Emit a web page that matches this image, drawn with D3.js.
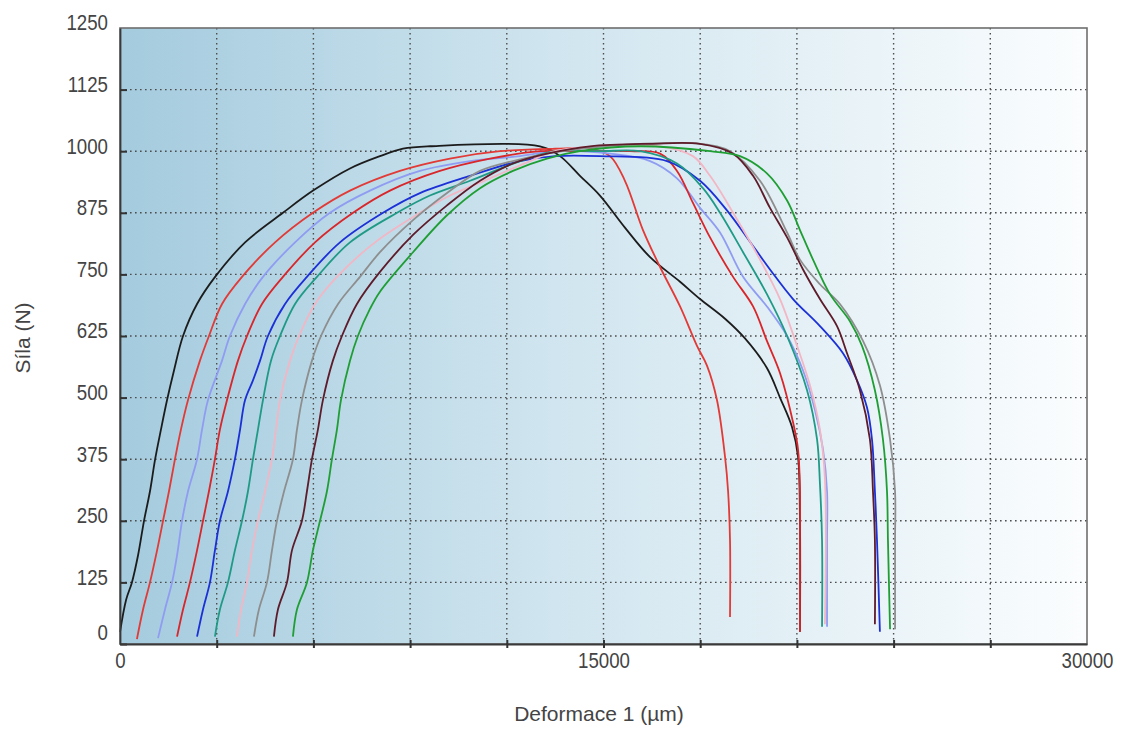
<!DOCTYPE html>
<html>
<head>
<meta charset="utf-8">
<script src="https://cdn.jsdelivr.net/npm/d3@7"></script>
<style>
  html, body { margin: 0; padding: 0; background: #fff; }
  svg { display: block; }
  text { font-family: "Liberation Sans", Arial, sans-serif; fill: #444; }
</style>
</head>
<body>
<svg id="chart" width="1125" height="729"></svg>
<script>
// force (N) vs deformation (µm), one array per specimen
var black = [[0,24],[190,90],[370,125],[560,180],[745,250],[930,310],[1090,375],[1270,435],[1460,495],[1675,555],[1955,625],[2390,690],[2950,745],[3880,815],[5055,875],[5990,920],[7135,965],[8065,990],[8780,1005],[9615,1010],[13030,1010],[13650,990],[14270,950],[14890,910],[15665,845],[16445,785],[17375,735],[17995,700],[18770,660],[19390,620],[20070,560],[20475,500],[20850,440],[21035,380],[21095,250],[21095,25]];
var redA = [[525,10],[715,70],[930,125],[1150,190],[1335,250],[1520,310],[1705,375],[1890,435],[2110,495],[2480,575],[2760,625],[3165,690],[3785,745],[4810,815],[5985,875],[7135,920],[8685,960],[10235,985],[11790,1000],[13495,1005],[14580,1005],[15200,990],[15665,940],[16225,840],[16755,765],[17375,685],[17900,605],[18210,565],[18520,495],[18770,380],[18865,310],[18925,210],[18925,55]];
var periwinkle = [[1180,12],[1395,70],[1615,125],[1770,180],[1925,250],[2110,310],[2390,375],[2545,435],[2730,495],[3165,575],[3410,625],[3880,690],[4435,745],[5430,815],[6515,875],[7755,920],[9305,960],[10860,980],[12410,990],[13495,1000],[15200,995],[16445,980],[17280,945],[17995,885],[18615,835],[19330,745],[20070,685],[20695,625],[21190,555],[21560,475],[21810,395],[21935,310],[21935,210],[21935,35]];
var redB = [[1770,15],[1955,70],[2170,125],[2390,190],[2575,250],[2760,310],[2945,375],[3100,435],[3320,495],[3660,575],[3940,625],[4405,690],[5055,745],[6050,815],[7230,875],[8375,920],[9925,960],[11480,985],[13030,1000],[14270,1000],[15820,1000],[16755,995],[17280,960],[17775,895],[18305,825],[19020,745],[19640,685],[20070,615],[20475,550],[20880,450],[21035,395],[21095,310],[21095,210],[21095,25]];
var blue = [[2390,15],[2575,70],[2790,125],[2945,190],[3100,250],[3350,310],[3565,375],[3725,435],[3880,495],[4125,535],[4345,575],[4590,625],[5120,690],[5800,745],[6825,815],[8160,875],[9305,915],[10860,950],[12410,980],[13495,990],[14890,990],[16970,980],[17995,940],[18830,880],[19450,825],[20165,760],[20880,700],[21715,645],[22430,590],[22865,535],[23175,480],[23330,415],[23420,310],[23485,210],[23575,25]];
var teal = [[2945,15],[3100,70],[3350,125],[3565,190],[3785,250],[3970,310],[4125,375],[4280,435],[4435,495],[4685,575],[4965,625],[5430,690],[6110,745],[7135,815],[8595,875],[9615,910],[10860,940],[12410,980],[13495,1000],[14890,1000],[16135,1000],[17280,975],[18085,925],[18615,875],[19330,795],[20070,710],[20695,625],[21315,515],[21625,415],[21715,325],[21780,210],[21780,35]];
var pink = [[3630,15],[3755,70],[3940,125],[4095,190],[4280,250],[4500,310],[4715,375],[4840,435],[4965,495],[5275,575],[5555,625],[6050,690],[6730,745],[7910,815],[9305,875],[10235,910],[11480,945],[12720,980],[13495,1000],[14890,1010],[16755,1010],[17775,990],[18305,950],[19020,875],[19855,780],[20475,700],[21005,605],[21405,525],[21715,435],[21870,335],[21870,40]];
var gray = [[4155,15],[4310,70],[4560,125],[4715,190],[4870,250],[5090,310],[5365,375],[5490,435],[5645,495],[5955,575],[6235,625],[6765,690],[7445,745],[8065,795],[9090,860],[10145,915],[11170,960],[12190,980],[13245,995],[14270,1005],[16135,1015],[17995,1015],[18925,1000],[19855,940],[20695,835],[21095,780],[21715,730],[22335,690],[23050,615],[23575,525],[23890,415],[24045,310],[24045,210],[24045,30]];
var maroon = [[4775,15],[4900,70],[5180,125],[5335,190],[5645,250],[5800,310],[5955,375],[6140,435],[6295,495],[6605,575],[6885,625],[7350,690],[8065,755],[9090,830],[10145,890],[11170,940],[12190,975],[13245,995],[14580,1010],[16445,1015],[17995,1015],[19020,995],[19640,950],[20165,885],[20695,825],[21190,760],[21715,700],[22245,645],[22555,590],[22955,515],[23265,415],[23360,310],[23420,210],[23420,40]];
var green = [[5365,15],[5490,70],[5800,125],[5985,190],[6205,250],[6420,310],[6575,375],[6730,435],[6855,495],[7135,575],[7380,625],[7755,680],[8065,715],[9090,795],[10145,870],[11170,925],[12190,960],[13245,985],[14270,1000],[16135,1010],[18305,1000],[19235,990],[20070,955],[20695,900],[21095,840],[21500,780],[22025,710],[22645,655],[23020,605],[23420,515],[23670,415],[23795,310],[23825,210],[23890,30]];

var seriesColors = ["#1c1c1c", "#e23a36", "#8f9cf2", "#d9262a", "#1b30d6", "#1f9a86", "#f3b6c4", "#8e8e8e", "#5e1b2a", "#1f9e34"];
var xTicks = [0, 3000, 6000, 9000, 12000, 15000, 18000, 21000, 24000, 27000, 30000];
var xLabels = [0, 15000, 30000];
var yTicks = [0, 125, 250, 375, 500, 625, 750, 875, 1000, 1125, 1250];

var series = [black, redA, periwinkle, redB, blue, teal, pink, gray, maroon, green];

var svg = d3.select("#chart"),
  width = +svg.attr("width"),
  height = +svg.attr("height");

var margin = { top: 28, right: 38, bottom: 85, left: 120 };

var x = d3.scaleLinear().domain([0, 30000]).range([margin.left, width - margin.right]);
var y = d3.scaleLinear().domain([0, 1250]).range([height - margin.bottom, margin.top]);

//background gradient, blue on the left fading to white
var grad = svg.append("defs").append("linearGradient")
  .attr("id", "bg")
  .attr("x1", "0%").attr("x2", "100%").attr("y1", "0%").attr("y2", "0%");
grad.append("stop").attr("offset", "0%").attr("stop-color", "#a4cbde");
grad.append("stop").attr("offset", "45%").attr("stop-color", "#d0e5ef");
grad.append("stop").attr("offset", "100%").attr("stop-color", "#fbfdfe");

svg.append("rect")
  .attr("x", x(0)).attr("y", y(1250))
  .attr("width", x(30000) - x(0)).attr("height", y(0) - y(1250))
  .attr("fill", "url(#bg)");

//dotted grid
var grid = svg.append("g").attr("class", "grid")
  .attr("stroke", "#4d4d4d").attr("stroke-width", 1.4).attr("stroke-dasharray", "1.6,3.4");

grid.selectAll(".vx")
  .data(xTicks.slice(1, -1))
  .enter().append("line")
  .attr("x1", d => x(d)).attr("x2", d => x(d))
  .attr("y1", y(1250)).attr("y2", y(0));

grid.selectAll(".hy")
  .data(yTicks.slice(1, -1))
  .enter().append("line")
  .attr("x1", x(0)).attr("x2", x(30000))
  .attr("y1", d => y(d)).attr("y2", d => y(d));

//curves
var line = d3.line()
  .x(d => x(d[0]))
  .y(d => y(d[1]))
  .curve(d3.curveCatmullRom.alpha(0.5));

svg.append("g").attr("class", "curves")
  .selectAll("path")
  .data(series)
  .enter().append("path")
  .attr("d", line)
  .attr("fill", "none")
  .attr("stroke", (d, i) => seriesColors[i])
  .attr("stroke-width", 1.8)
  .attr("stroke-linejoin", "round");

//frame
svg.append("rect")
  .attr("x", x(0)).attr("y", y(1250))
  .attr("width", x(30000) - x(0)).attr("height", y(0) - y(1250))
  .attr("fill", "none")
  .attr("stroke", "#6e6e6e")
  .attr("stroke-width", 1.6);

// tick labels look tall and narrow in the picture
var squeeze = "scale(0.83,1)";

//left axis, ticks pointing inside
var yAxis = svg.append("g")
  .attr("transform", "translate(" + x(0) + ",0)")
  .call(d3.axisLeft(y).tickValues(yTicks).tickFormat(d3.format("d"))
    .tickSizeInner(-7).tickSizeOuter(0).tickPadding(14.5));
yAxis.select(".domain").attr("stroke", "#3a3a3a").attr("stroke-width", 1.8);
yAxis.selectAll(".tick line").attr("stroke", "#333").attr("stroke-width", 2);
yAxis.selectAll(".tick text")
  .attr("dy", d => d === 0 ? "-0.18em" : "0.08em")
  .attr("transform", squeeze)
  .style("font-size", "22.5px")
  .attr("fill", "#444");
yAxis.select(".tick:last-of-type line").remove();

//bottom axis, ticks across the line, only three labels
var xAxis = svg.append("g")
  .attr("transform", "translate(0," + y(0) + ")")
  .call(d3.axisBottom(x).tickValues(xTicks).tickSizeInner(4).tickSizeOuter(0).tickPadding(4)
    .tickFormat(d => xLabels.indexOf(d) >= 0 ? d : ""));
xAxis.select(".domain").attr("stroke", "#3a3a3a").attr("stroke-width", 1.8);
xAxis.selectAll(".tick line").attr("y1", -4).attr("stroke", "#333").attr("stroke-width", 2);
xAxis.selectAll(".tick text")
  .attr("transform", squeeze)
  .style("font-size", "22.5px")
  .attr("fill", "#444");
xAxis.selectAll(".tick").filter(d => d === 0 || d === 30000).select("line").remove();

//axis titles
svg.append("text")
  .attr("x", 599)
  .attr("y", 721)
  .attr("text-anchor", "middle")
  .style("font-size", "21px")
  .text("Deformace 1 (µm)");

svg.append("text")
  .attr("transform", "translate(30,338) rotate(-90)")
  .attr("text-anchor", "middle")
  .style("font-size", "21px")
  .text("Síla (N)");
</script>
</body>
</html>
